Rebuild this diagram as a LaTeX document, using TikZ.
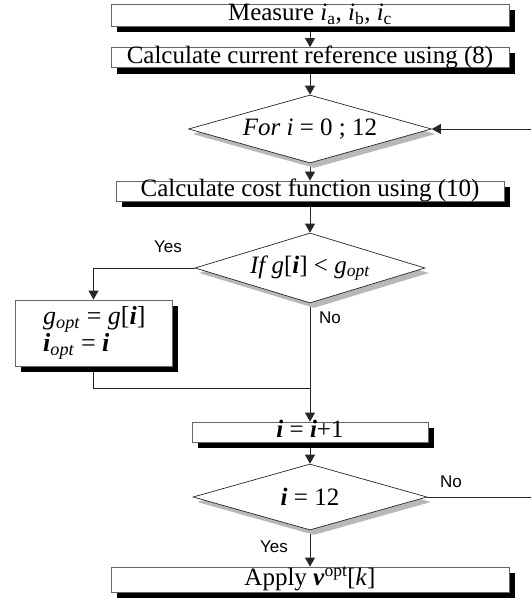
\documentclass[tikz,border=0pt]{standalone}
\usepackage{fontspec}
\setmainfont{Liberation Serif}
\newfontfamily\lsans{Liberation Sans}
\usetikzlibrary{shapes.geometric,shadows,arrows.meta}
\newcommand{\bi}[1]{\textbf{\textit{#1}}}
\pgfdeclarelayer{bglines}
\pgfsetlayers{bglines,main}
\begin{document}
\begin{tikzpicture}[x=1pt,y=-1pt,
  every node/.style={font=\fontsize{25}{28}\selectfont},
  procbox/.style={rectangle, draw=black!60, line width=0.8pt, fill=white, inner sep=0pt,
    text height=15pt, text depth=3.5pt,
    drop shadow={shadow xshift=6pt,shadow yshift=-6pt,fill=black,opacity=1}},
  decision/.style={diamond, draw=black!85, line width=0.7pt, fill=white, inner sep=0pt,
    drop shadow={shadow xshift=4pt,shadow yshift=-5pt,fill=black!28,opacity=1}},
  conn/.style={draw=black!85, line width=0.8pt},
  arr/.style={conn, -{Triangle[width=10pt,length=9pt]}},
  yn/.style={font=\lsans\fontsize{17}{20}\selectfont, inner sep=0pt},
  dtext/.style={font=\fontsize{25}{28}\selectfont, inner sep=0pt},
]
\useasboundingbox (0,0) rectangle (531,602);

\node[procbox, minimum width=398pt, minimum height=22pt] (m1) at (310,15)
  {Measure \textit{i}\textsubscript{a}, \textit{i}\textsubscript{b}, \textit{i}\textsubscript{c}};
\node[procbox, minimum width=398pt, minimum height=20pt] (m2) at (310,57.5)
  {Calculate current reference using (8)};
\node[decision, minimum width=243pt, minimum height=68pt] (d1) at (310,129) {};
\node[dtext] (d1t) at (d1) {\textit{For i} = 0 ; 12};
\node[procbox, minimum width=388pt, minimum height=20pt] (cost) at (310,191)
  {Calculate cost function using (10)};
\node[decision, minimum width=230pt, minimum height=70pt] (d2) at (310,268) {};
\node[dtext] (d2t) at (d2) {\textit{If g}[\bi{i}] < \textit{g}\textsubscript{\textit{opt}}};
\node[procbox, minimum width=157pt, minimum height=66pt] (gb) at (93.5,333) {};
\node[dtext, align=left, anchor=west, font=\fontsize{26}{23}\selectfont] (gbt) at (43,333)
  {\textit{g}\textsubscript{\textit{opt}} = \textit{g}[\bi{i}]\\ \bi{i}\textsubscript{\textit{opt}} = \bi{i}};
\node[procbox, minimum width=236pt, minimum height=20pt] (inc) at (310,432)
  {\bi{i} = \bi{i}+1};
\node[decision, minimum width=234pt, minimum height=66pt] (d3) at (310,497) {};
\node[dtext] (d3t) at (d3) {\bi{i} = 12};
\node[procbox, minimum width=398pt, minimum height=25pt] (ap) at (310,579.5)
  {Apply \bi{v}\textsuperscript{opt}[\textit{k}]};

\coordinate (rt) at (531,129);
\coordinate (rb) at (531,497);
\coordinate (mj) at (310,388);

\begin{pgfonlayer}{bglines}
\draw[arr] (m1.south) -- (m2.north);
\draw[arr] (m2.south) -- (d1.north);
\draw[arr] (d1.south) -- (cost.north);
\draw[arr] (cost.south) -- (d2.north);
\draw[arr] (d2.west) -| (gb.north);
\draw[conn] (gb.south) |- (mj);
\draw[arr] (d2.south) -- (inc.north);
\draw[arr] (inc.south) -- (d3.north);
\draw[arr] (d3.south) -- (ap.north);
\draw[conn] (d3.east) -- (rb);
\draw[arr] (rt) -- (d1.east);
\end{pgfonlayer}

\node[yn] (yes1) at (168,247) {Yes};
\node[yn] (no1) at (330,318) {No};
\node[yn] (no2) at (451,482) {No};
\node[yn] (yes2) at (274,547) {Yes};
\end{tikzpicture}
\end{document}
